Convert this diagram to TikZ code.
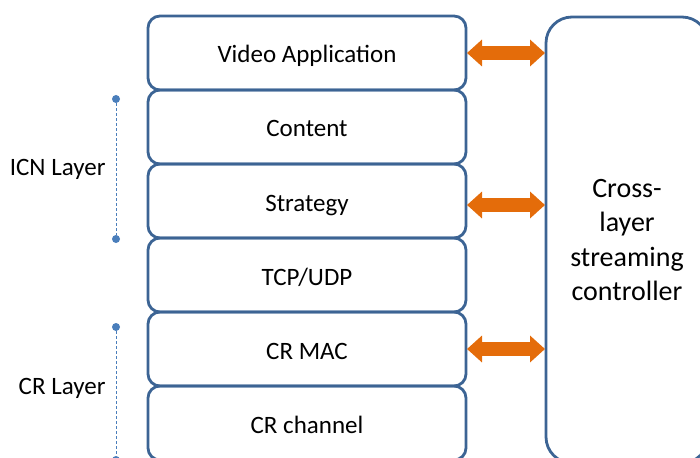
\documentclass[tikz,border=0pt]{standalone}
\usepackage{fontspec}
\setmainfont{Carlito}
\usetikzlibrary{positioning,arrows.meta}
\definecolor{boxblue}{HTML}{3C6494}
\definecolor{dotblue}{HTML}{4A7EBB}
\definecolor{arroworange}{HTML}{E46C0A}
\tikzset{
  layer/.style={draw=boxblue, line width=2.8pt, rounded corners=12pt,
    minimum width=318pt, minimum height=74pt, outer sep=0pt, inner sep=0pt,
    text height=20pt, text depth=0pt, font=\fontsize{25}{30}\selectfont},
  ctrlbox/.style={draw=boxblue, line width=2.8pt, rounded corners=26pt,
    minimum width=162pt, minimum height=446pt, outer sep=0pt, align=center,
    font=\fontsize{28}{34.5}\selectfont},
  biarrow/.style={arroworange, line width=14pt,
    {Triangle[width=26pt,length=15pt]}-{Triangle[width=26pt,length=15pt]}},
  span/.style={dotblue, densely dashed, line width=1pt},
  spandot/.style={circle, fill=dotblue, inner sep=0pt, minimum size=8pt},
  spanlabel/.style={anchor=east, font=\fontsize{25}{30}\selectfont}
}
\begin{document}
\begin{tikzpicture}[x=1pt,y=-1pt]
  \useasboundingbox (0,0) rectangle (700,457);
  % protocol stack
  \node[layer] (video) at (307,53) {Video Application};
  \node[layer, below=0pt of video] (content) {Content};
  \node[layer, below=0pt of content] (strategy) {Strategy};
  \node[layer, below=0pt of strategy] (tcp) {TCP/UDP};
  \node[layer, below=0pt of tcp] (mac) {CR MAC};
  \node[layer, below=0pt of mac] (channel) {CR channel};
  % controller
  \node[ctrlbox] (ctrl) at (627,240) {Cross-\\layer\\streaming\\controller};
  \draw[biarrow] ([xshift=1pt]video.east) -- ([xshift=-1pt]video.east -| ctrl.west);
  \draw[biarrow] ([xshift=1pt,yshift=-4pt]strategy.east) -- ([xshift=-1pt,yshift=-4pt]strategy.east -| ctrl.west);
  \draw[biarrow] ([xshift=1pt]mac.east) -- ([xshift=-1pt]mac.east -| ctrl.west);
  % layer spans
  \node[spandot] (icntop) at (116,99) {};
  \node[spandot] (icnbot) at (116,239) {};
  \draw[span] (icntop) -- (icnbot);
  \node[spanlabel] (icnlabel) at (109,169) {ICN Layer};
  \node[spandot] (crtop) at (116,327) {};
  \node[spandot] (crbot) at (116,460) {};
  \draw[span] (crtop) -- (crbot);
  \node[spanlabel] (crlabel) at (109,388) {CR Layer};
\end{tikzpicture}
\end{document}
